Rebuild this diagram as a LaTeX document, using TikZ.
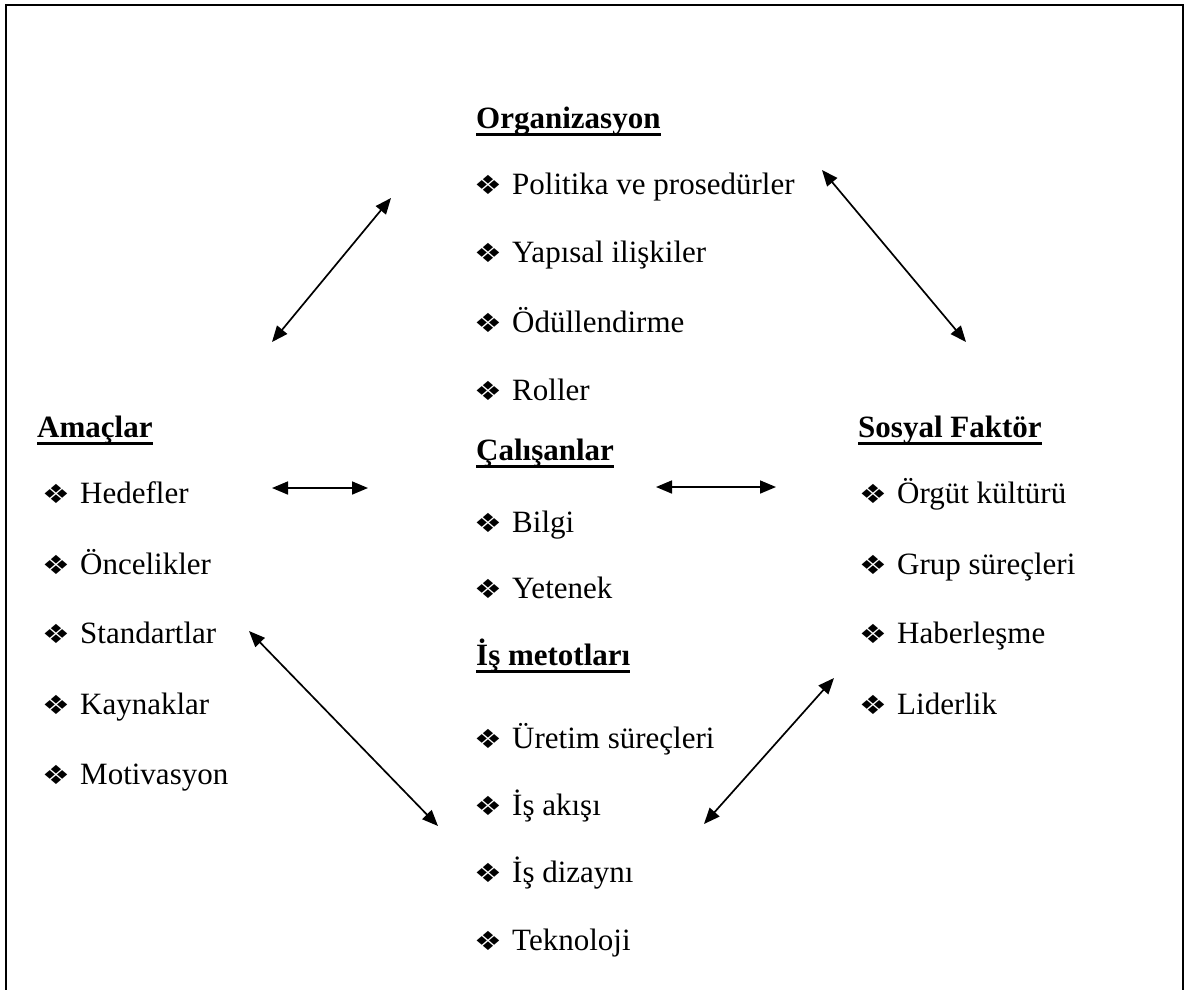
\documentclass[tikz,border=0pt]{standalone}
\usepackage{fontspec}
\setmainfont{Liberation Serif}
\newfontfamily\symfont{DejaVu Sans}
\usetikzlibrary{arrows.meta}

% bullet glyph followed by a fixed gap before the item text
\newcommand{\itembul}{\makebox[35pt][l]{\hspace*{-3pt}\scalebox{1}[0.85]{\symfont\fontsize{31}{31}\selectfont ❖}}}

\tikzset{
  x=1pt, y=-1pt,
  txt/.style={anchor=base west, inner sep=0pt, font=\fontsize{31}{31}\selectfont},
  hdr/.style={txt, font=\fontsize{31}{31}\selectfont\bfseries},
  link/.style={line width=1.7pt, {Triangle[length=16pt,width=13pt]}-{Triangle[length=16pt,width=13pt]}},
  frame/.style={line width=2.5pt}
}

% underline a header node
\newcommand{\hdrrule}[1]{\draw[line width=3pt] ([yshift=-6.5pt]#1.base west) -- ([yshift=-6.5pt]#1.base east);}

\begin{document}
\begin{tikzpicture}
\useasboundingbox (0,0) rectangle (1186,989);
\begin{scope}
  \clip (0,0) rectangle (1186,989);
  \draw[frame] (6,5) rectangle (1183,1010);
\end{scope}

% Organizasyon / Çalışanlar / İş metotları
\node[hdr] (org) at (476,128) {Organizasyon}; \hdrrule{org}
\node[txt] (o1) at (477,194) {\itembul Politika ve prosedürler};
\node[txt] (o2) at (477,262) {\itembul Yapısal ilişkiler};
\node[txt] (o3) at (477,332) {\itembul Ödüllendirme};
\node[txt] (o4) at (477,400) {\itembul Roller};

\node[hdr] (cal) at (476,460) {Çalışanlar}; \hdrrule{cal}
\node[txt] (c1) at (477,532) {\itembul Bilgi};
\node[txt] (c2) at (477,598) {\itembul Yetenek};

\node[hdr] (ism) at (476,665) {İş metotları}; \hdrrule{ism}
\node[txt] (i1) at (477,748) {\itembul Üretim süreçleri};
\node[txt] (i2) at (477,815) {\itembul İş akışı};
\node[txt] (i3) at (477,882) {\itembul İş dizaynı};
\node[txt] (i4) at (477,950) {\itembul Teknoloji};

% Amaçlar
\node[hdr] (ama) at (37,437) {Amaçlar}; \hdrrule{ama}
\node[txt] (a1) at (45,503) {\itembul Hedefler};
\node[txt] (a2) at (45,574) {\itembul Öncelikler};
\node[txt] (a3) at (45,643) {\itembul Standartlar};
\node[txt] (a4) at (45,714) {\itembul Kaynaklar};
\node[txt] (a5) at (45,784) {\itembul Motivasyon};

% Sosyal Faktör
\node[hdr] (sos) at (858,437) {Sosyal Faktör}; \hdrrule{sos}
\node[txt] (s1) at (862,503) {\itembul Örgüt kültürü};
\node[txt] (s2) at (862,574) {\itembul Grup süreçleri};
\node[txt] (s3) at (862,643) {\itembul Haberleşme};
\node[txt] (s4) at (862,714) {\itembul Liderlik};

% arrow end points
\coordinate (p1a) at (272,342); \coordinate (p1b) at (391,198);
\coordinate (p2a) at (822,170); \coordinate (p2b) at (966,342);
\coordinate (p3a) at (272,488); \coordinate (p3b) at (368,488);
\coordinate (p4a) at (656,487); \coordinate (p4b) at (776,487);
\coordinate (p5a) at (249,631); \coordinate (p5b) at (438,826);
\coordinate (p6a) at (704,824); \coordinate (p6b) at (834,678);

\draw[link] (p1a) -- (p1b);
\draw[link] (p2a) -- (p2b);
\draw[link] (p3a) -- (p3b);
\draw[link] (p4a) -- (p4b);
\draw[link] (p5a) -- (p5b);
\draw[link] (p6a) -- (p6b);
\end{tikzpicture}
\end{document}
